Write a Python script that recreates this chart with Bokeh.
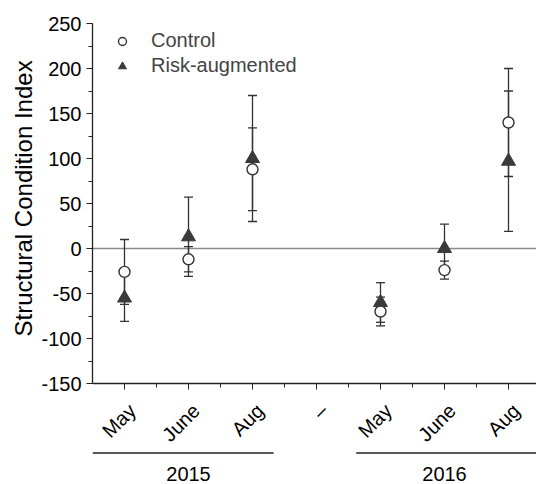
import math
from bokeh.plotting import figure
from bokeh.models import (Range1d, FixedTicker, Whisker, TeeHead, Span, Legend,
                          LegendItem, ColumnDataSource, Title)
from bokeh.core.properties import value
from bokeh.embed import file_html
from bokeh.resources import INLINE

# ---- data ----
tick_positions = [1, 2, 3, 4, 5, 6, 7]
tick_labels = ["May", "June", "Aug", "\u2013", "May", "June", "Aug"]
sample_x = [1, 2, 3, 5, 6, 7]
control_mean = [-26, -12, 88, -70, -24, 140]
control_err = [36, 14, 46, 16, 10, 60]
risk_mean = [-55, 13, 100, -60, 0, 97]
risk_err = [26, 44, 70, 22, 27, 78]
y_ticks = [-150, -100, -50, 0, 50, 100, 150, 200, 250]
years = ["2015", "2016"]
year_start = [0.5, 4.62]
year_end = [3.33, 7.44]
year_center = [2, 6]

FONT = "Liberation Sans"
DARK = "#333333"
AX = "#222222"

W, H = 536, 484
LEFT, TOP = 92, 23
PLOT_H = 360                      # pixel height of the data area (-150..250)
YMIN, YMAX = y_ticks[0], y_ticks[-1]
PX = (YMAX - YMIN) / PLOT_H       # data units per pixel (y)
XPX = 1 / 64.0                    # data units per pixel (x)
XMIN = 0.5
XMAX = XMIN + (W - LEFT) * XPX

ctrl = ColumnDataSource(dict(
    x=sample_x, y=control_mean,
    lo=[m - e for m, e in zip(control_mean, control_err)],
    hi=[m + e for m, e in zip(control_mean, control_err)]))
risk = ColumnDataSource(dict(
    x=sample_x, y=risk_mean,
    lo=[m - e for m, e in zip(risk_mean, risk_err)],
    hi=[m + e for m, e in zip(risk_mean, risk_err)]))

p = figure(width=W, height=H, x_range=Range1d(XMIN, XMAX),
           y_range=Range1d(YMAX - (H - TOP) * PX, YMAX),
           output_backend="svg", toolbar_location=None, x_axis_location=None,
           min_border_left=LEFT, min_border_right=0, min_border_top=TOP,
           min_border_bottom=0)
p.xgrid.visible = False
p.ygrid.visible = False
p.outline_line_color = None

# zero line
p.add_layout(Span(location=0, dimension="width", line_color="#8a8a8a",
                  line_width=1.5, level="underlay"))

# error bars
for src in (risk, ctrl):
    w = Whisker(source=src, base="x", lower="lo", upper="hi",
                line_color=DARK, line_width=1.3,
                upper_head=TeeHead(size=9, line_color=DARK, line_width=1.3),
                lower_head=TeeHead(size=9, line_color=DARK, line_width=1.3))
    p.add_layout(w)

r_risk = p.scatter("x", "y", source=risk, marker="triangle", size=14,
                   fill_color="#3a3a3a", line_color="#3a3a3a")
r_ctrl = p.scatter("x", "y", source=ctrl, marker="circle", size=11,
                   fill_color="white", line_color=DARK, line_width=1.4)

# y axis (bounded to the data area)
ya = p.yaxis[0]
ya.bounds = (YMIN, YMAX)
ya.ticker = FixedTicker(ticks=y_ticks, minor_ticks=list(range(YMIN, YMAX + 1, 25)))
ya.major_label_overrides = {t: str(t) for t in y_ticks}
ya.major_label_standoff = 5
ya.major_label_text_font = FONT
ya.major_label_text_font_size = "20px"
ya.major_label_text_color = "black"
ya.axis_line_color = AX
ya.axis_line_width = 1.3
ya.major_tick_line_color = AX
ya.minor_tick_line_color = AX
ya.major_tick_in = 0
ya.major_tick_out = 6
ya.minor_tick_in = 0
ya.minor_tick_out = 4

# y axis title: left-side title starting from the bottom, offset so that it is
# centred on the data area rather than on the whole frame
p.add_layout(Title(text="Structural Condition Index", align="left",
                   offset=148, standoff=4,
                   text_font=FONT, text_font_size="24px", text_font_style="normal",
                   text_color="black"), "left")

# x axis drawn in data space below the data area
p.segment(x0=[XMIN], y0=[YMIN], x1=[XMAX], y1=[YMIN], line_color=AX, line_width=1.3)
p.segment(x0=tick_positions, y0=[YMIN] * 7, x1=tick_positions,
          y1=[YMIN - 6 * PX] * 7, line_color=AX, line_width=1)
minor_x = [t + 0.5 for t in tick_positions]
p.segment(x0=minor_x, y0=[YMIN] * 7, x1=minor_x,
          y1=[YMIN - 4 * PX] * 7, line_color=AX, line_width=1)

ms = ColumnDataSource(dict(x=tick_positions, y=[YMIN - 16 * PX] * 7, t=tick_labels))
p.text(x="x", y="y", text="t", source=ms, angle=math.pi / 4,
       text_align="right", text_baseline="top", text_font=value(FONT),
       text_font_size="20px", text_color="black")

ys = ColumnDataSource(dict(x0=year_start, x1=year_end, xc=year_center,
                           y=[YMIN - 69.5 * PX] * 2, ty=[YMIN - 90 * PX] * 2, t=years))
p.segment(x0="x0", y0="y", x1="x1", y1="y", source=ys, line_color=AX, line_width=1.3)
p.text(x="xc", y="ty", text="t", source=ys, text_align="center",
       text_baseline="middle", text_font=value(FONT), text_font_size="20px",
       text_color="black")

legend = Legend(items=[LegendItem(label="Control", renderers=[r_ctrl]),
                       LegendItem(label="Risk-augmented", renderers=[r_risk])],
                location=(20, 306 + (H - TOP - PLOT_H)), padding=0, margin=0, spacing=2,
                label_standoff=19, glyph_width=20, glyph_height=20,
                label_text_font=FONT, label_text_font_size="20px",
                border_line_color=None, background_fill_alpha=0)
p.add_layout(legend)

open("out.html", "w").write(file_html(p, INLINE))
